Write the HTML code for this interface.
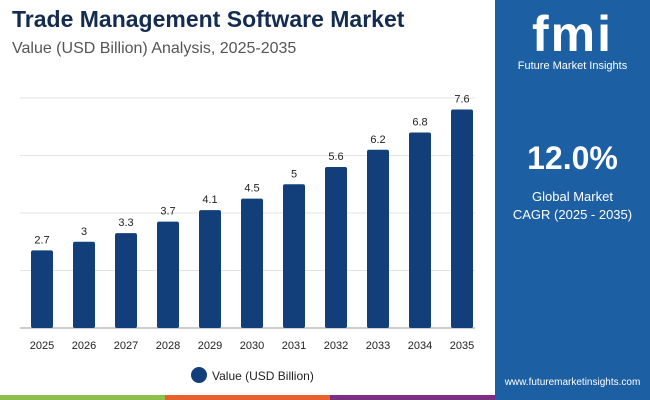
<!DOCTYPE html>
<html><head><meta charset="utf-8"><style>
body{margin:0;width:650px;height:400px;overflow:hidden;background:#fff;font-family:"Liberation Sans",sans-serif;position:relative}
.t{position:absolute}
</style></head><body>
<div class="t" style="left:12px;top:6px;font-size:23px;font-weight:bold;color:#142c4f">Trade Management Software Market</div>
<div class="t" style="left:12px;top:40px;font-size:16px;color:#555">Value (USD Billion) Analysis, 2025-2035</div>
<div class="t" style="left:495px;top:0;width:155px;height:400px;background:#1c5fa3">
  <div style="position:absolute;left:0;top:8px;width:155px;text-align:center;font-size:50px;font-weight:bold;color:#fff;letter-spacing:2px;line-height:52px">fmi</div>
  <div style="position:absolute;left:0;top:60px;width:155px;text-align:center;font-size:11px;color:#fff">Future Market Insights</div>
  <div style="position:absolute;left:0;top:140px;width:155px;text-align:center;font-size:32px;font-weight:bold;color:#fff">12.0%</div>
  <div style="position:absolute;left:0;top:188px;width:155px;text-align:center;font-size:13px;color:#fff;line-height:18px">Global Market<br>CAGR (2025 - 2035)</div>
  <div style="position:absolute;left:0;top:377px;width:155px;text-align:center;font-size:10px;color:#fff">www.futuremarketinsights.com</div>
</div>
<div class="t" style="left:0;top:395px;width:165px;height:5px;background:#8cc04a"></div>
<div class="t" style="left:165px;top:395px;width:165px;height:5px;background:#e8612c"></div>
<div class="t" style="left:330px;top:395px;width:165px;height:5px;background:#7b2e84"></div>
<svg class="t" style="left:0;top:0" width="495" height="395">
<g id="g"></g>
<circle cx="199" cy="375" r="8" fill="#123f7a"/>
<text x="212" y="380" font-size="12" fill="#222">Value (USD Billion)</text>
</svg>
<script>
const categories=["2025","2026","2027","2028","2029","2030","2031","2032","2033","2034","2035"];
const values=[2.7,3,3.3,3.7,4.1,4.5,5,5.6,6.2,6.8,7.6];
const labels=["2.7","3","3.3","3.7","4.1","4.5","5","5.6","6.2","6.8","7.6"];
const gridTicks=[0,2,4,6,8];
const NS="http://www.w3.org/2000/svg";
const g=document.getElementById('g');
const y=v=>328-v*28.75;
const x=i=>42+i*42;
function mk(t,a){const e=document.createElementNS(NS,t);for(const k in a)e.setAttribute(k,a[k]);g.appendChild(e);return e;}
gridTicks.forEach(t=>{const l=mk('line',{x1:20,x2:475,y1:y(t),y2:y(t),stroke:t===0?'#999':'#e3e3e3','stroke-width':1});

});
values.forEach((v,i)=>{
const r=mk('rect',{x:x(i)-11,y:y(v),width:22,height:328-y(v),fill:'#123f7a',rx:2});


const t=mk('text',{x:x(i),y:y(v)-7,'text-anchor':'middle','font-size':11,fill:'#222'});t.textContent=labels[i];


const c=mk('text',{x:x(i),y:349,'text-anchor':'middle','font-size':11,fill:'#222'});c.textContent=categories[i];


});
</script>
</body></html>
